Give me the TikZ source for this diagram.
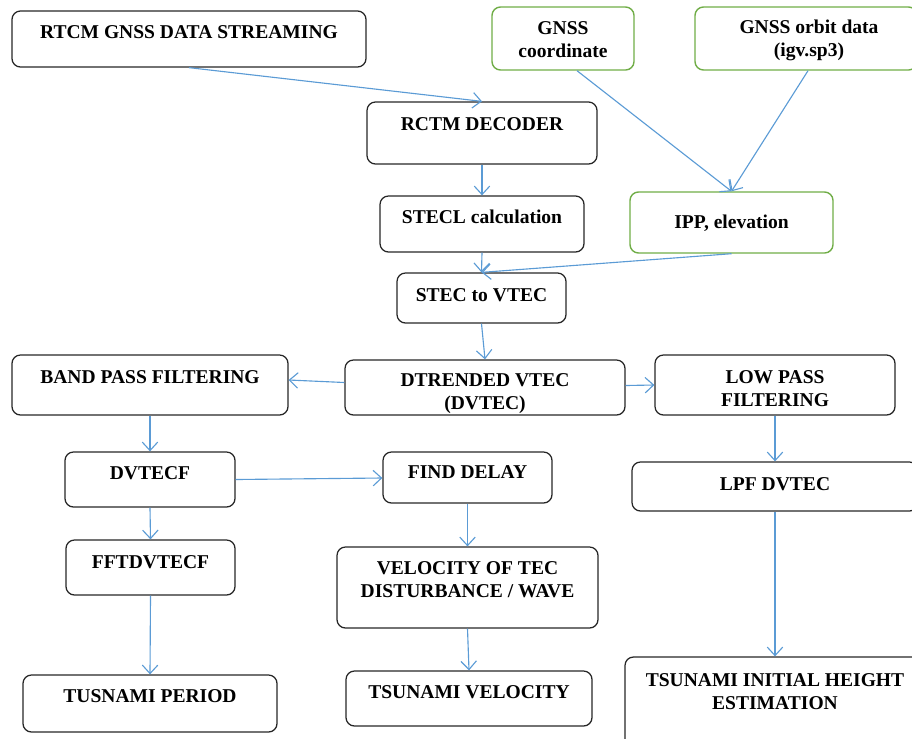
\documentclass[tikz,border=0pt]{standalone}
\usepackage{fontspec}
\setmainfont{Liberation Serif}
\usetikzlibrary{calc,arrows.meta}

\definecolor{flowblue}{RGB}{91,155,213}
\definecolor{flowgreen}{RGB}{112,173,71}

\tikzset{
    stagebox/.style={draw=black!85, line width=0.9pt, rounded corners=6pt, inner sep=0pt},
    inputbox/.style={stagebox, draw=flowgreen, line width=1pt},
    boxtext/.style={font=\fontsize{13.9}{16.4}\selectfont\bfseries, align=center, inner sep=0pt},
    flow/.style={draw=flowblue, line width=0.8pt, -{Straight Barb[length=6pt,width=11pt]}}
}

\begin{document}
\begin{tikzpicture}[x=0.025cm, y=-0.025cm]
    \useasboundingbox (0,0) rectangle (912,738);

    % boxes (centre, size in px)
    \node[stagebox, minimum width=354*0.025cm, minimum height=56*0.025cm] (rtcm) at (189,39) {};
    \node[inputbox, minimum width=142*0.025cm, minimum height=63*0.025cm] (gcoord) at (563,38.5) {};
    \node[inputbox, minimum width=222*0.025cm, minimum height=63*0.025cm] (orbit) at (806,38.5) {};
    \node[stagebox, minimum width=230*0.025cm, minimum height=62*0.025cm] (decoder) at (482,133) {};
    \node[stagebox, minimum width=204*0.025cm, minimum height=56*0.025cm] (stecl) at (482,224) {};
    \node[inputbox, minimum width=203*0.025cm, minimum height=61*0.025cm] (ipp) at (731.5,222.5) {};
    \node[stagebox, minimum width=169*0.025cm, minimum height=50*0.025cm] (stec) at (481.5,298) {};
    \node[stagebox, minimum width=276*0.025cm, minimum height=60*0.025cm] (band) at (150,385) {};
    \node[stagebox, minimum width=280*0.025cm, minimum height=55*0.025cm] (dvtec) at (485,387.5) {};
    \node[stagebox, minimum width=240*0.025cm, minimum height=60*0.025cm] (lowpass) at (775,385) {};
    \node[stagebox, minimum width=170*0.025cm, minimum height=55*0.025cm] (dvtecf) at (150,479.5) {};
    \node[stagebox, minimum width=169*0.025cm, minimum height=51*0.025cm] (delay) at (467.5,477.5) {};
    \node[stagebox, minimum width=286*0.025cm, minimum height=49*0.025cm] (lpf) at (775,486.5) {};
    \node[stagebox, minimum width=169*0.025cm, minimum height=55*0.025cm] (fft) at (150.5,567.5) {};
    \node[stagebox, minimum width=261*0.025cm, minimum height=81*0.025cm] (velocity) at (467.5,587.5) {};
    \node[stagebox, minimum width=254*0.025cm, minimum height=57*0.025cm] (period) at (150,703.5) {};
    \node[stagebox, minimum width=246*0.025cm, minimum height=55*0.025cm] (tsvel) at (469,698.5) {};
    \node[stagebox, minimum width=300*0.025cm, minimum height=90*0.025cm] (height) at (775,702) {};

    % texts
    \node[boxtext] at (189,32) {RTCM GNSS DATA STREAMING};
    \node[boxtext] at (563,40) {GNSS\\coordinate};
    \node[boxtext] at (809,40) {GNSS orbit data\\(igv.sp3)};
    \node[boxtext] at (482,124) {RCTM DECODER};
    \node[boxtext] at (482,217) {STECL calculation};
    \node[boxtext] at (731.5,223) {IPP, elevation};
    \node[boxtext] at (481.5,295) {STEC to VTEC};
    \node[boxtext] at (150,377) {BAND PASS FILTERING};
    \node[boxtext] at (485,393.5) {DTRENDED VTEC\\(DVTEC)};
    \node[boxtext] at (775,389) {LOW PASS\\FILTERING};
    \node[boxtext] at (150,473) {DVTECF};
    \node[boxtext] at (467.5,472) {FIND DELAY};
    \node[boxtext] at (775,484) {LPF DVTEC};
    \node[boxtext] at (150.5,562) {FFTDVTECF};
    \node[boxtext] at (467.5,580) {VELOCITY OF TEC\\DISTURBANCE / WAVE};
    \node[boxtext] at (150,696) {TUSNAMI PERIOD};
    \node[boxtext] at (469,692) {TSUNAMI VELOCITY};
    \node[boxtext] at (775,692) {TSUNAMI INITIAL HEIGHT\\ESTIMATION};

    % connectors
    \draw[flow] (rtcm.south) -- (decoder.north);
    \draw[flow] ($(gcoord.south)+(14,0)$) -- (ipp.north);
    \draw[flow] ($(orbit.south)+(2,0)$) -- (ipp.north);
    \draw[flow] (decoder.south) -- (stecl.north);
    \draw[flow] (stecl.south) -- (stec.north);
    \draw[flow] (ipp.south) -- (stec.north);
    \draw[flow] (stec.south) -- (dvtec.north);
    \draw[flow] ($(dvtec.west)+(0,-5)$) -- ($(band.east)+(0,-5)$);
    \draw[flow] ($(dvtec.east)+(0,-2)$) -- (lowpass.west);
    \draw[flow] (band.south) -- (dvtecf.north);
    \draw[flow] (dvtecf.east) -- ($(delay.west)+(0,0.5)$);
    \draw[flow] (dvtecf.south) -- (fft.north);
    \draw[flow] (fft.south) -- (period.north);
    \draw[flow] (delay.south) -- (velocity.north);
    \draw[flow] (velocity.south) -- (tsvel.north);
    \draw[flow] (lowpass.south) -- (lpf.north);
    \draw[flow] (lpf.south) -- (height.north);
\end{tikzpicture}
\end{document}
